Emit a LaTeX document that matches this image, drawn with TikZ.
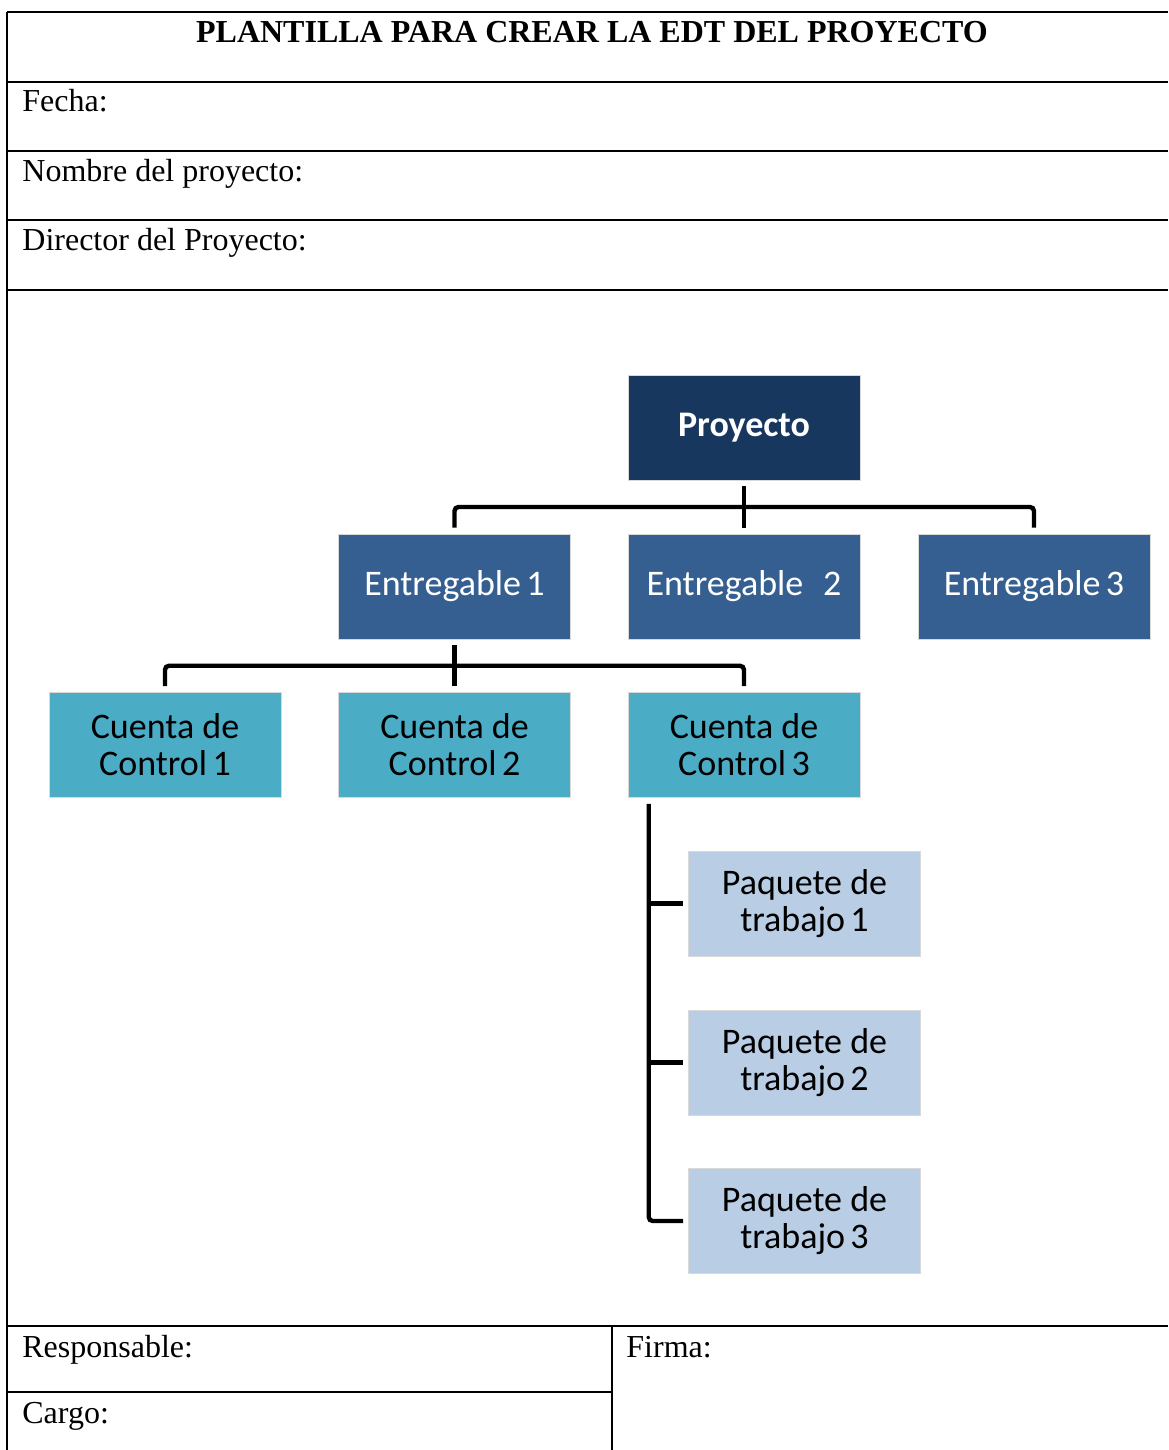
\documentclass[tikz,border=0pt]{standalone}
\usepackage{fontspec}
\setmainfont{Liberation Serif}
\newfontfamily\calibri{Carlito}
\usepackage{tikz}
\usetikzlibrary{calc}
\definecolor{proyblue}{HTML}{17375E}
\definecolor{entblue}{HTML}{365F91}
\definecolor{ctaturq}{HTML}{4BACC6}
\definecolor{paqblue}{HTML}{B9CDE5}

\begin{document}
\begin{tikzpicture}[x=0.5pt,y=-0.5pt,
  rule/.style={line width=1.3pt},
  field/.style={anchor=base west,inner sep=0pt,font=\fontsize{16pt}{19pt}\selectfont},
  box/.style={minimum width=116pt,minimum height=52.5pt,inner sep=0pt,align=center,
    draw=white!85!black,line width=0.3pt,font=\calibri\fontsize{18pt}{18.5pt}\selectfont},
  conn/.style={line width=2.2pt,rounded corners=2pt}]
\useasboundingbox (0,0) rectangle (1168,1450);
% table
\foreach \y in {12,82,151,220,290,1326}
  \draw[rule] (7,\y) -- (1168,\y);
\draw[rule] (7,1392) -- (612,1392);
\draw[rule] (7,12) -- (7,1450);
\draw[rule] (612,1326) -- (612,1450);
\node[anchor=base,inner sep=0pt,font=\bfseries\fontsize{16pt}{19pt}\selectfont] (titulo) at (592,43) {PLANTILLA PARA CREAR LA EDT DEL PROYECTO};
\node[field] (fecha) at (22,112) {Fecha:};
\node[field] (nombre) at (22,181) {Nombre del proyecto:};
\node[field] (director) at (22,250) {Director del Proyecto:};
\node[field] (resp) at (22,1357) {Responsable:};
\node[field] (cargo) at (22,1423) {Cargo:};
\node[field] (firma) at (626,1357) {Firma:};
% boxes
\node[box,fill=proyblue,text=white,font=\calibri\bfseries\fontsize{18pt}{18.5pt}\selectfont] (proy) at (744,427.5) {Proyecto};
\node[box,fill=entblue,text=white] (ent1) at (454.5,586.5) {Entregable\hspace{0.15em}1};
\node[box,fill=entblue,text=white] (ent2) at (744,586.5) {Entregable\hspace{0.55em}2};
\node[box,fill=entblue,text=white] (ent3) at (1034,586.5) {Entregable\hspace{0.15em}3};
\node[box,fill=ctaturq] (cc1) at (165,745) {Cuenta de\\Control\hspace{0.15em}1};
\node[box,fill=ctaturq] (cc2) at (454.5,745) {Cuenta de\\Control\hspace{0.15em}2};
\node[box,fill=ctaturq] (cc3) at (744,745) {Cuenta de\\Control\hspace{0.15em}3};
\node[box,fill=paqblue] (paq1) at (804.5,903.5) {Paquete de\\trabajo\hspace{0.15em}1};
\node[box,fill=paqblue] (paq2) at (804.5,1062.5) {Paquete de\\trabajo\hspace{0.15em}2};
\node[box,fill=paqblue] (paq3) at (804.5,1221) {Paquete de\\trabajo\hspace{0.15em}3};
% connectors
\coordinate (bus1) at ($(proy.south)!0.5!(ent2.north)$);
\draw[conn] ([yshift=-3pt]proy.south) -- ([yshift=3pt]ent2.north);
\draw[conn] ([yshift=3pt]ent1.north) |- (bus1) -| ([yshift=3pt]ent3.north);
\coordinate (bus2) at ($(ent1.south)!0.5!(cc2.north)$);
\draw[conn] ([yshift=-3pt]ent1.south) -- ([yshift=3pt]cc2.north);
\draw[conn] ([yshift=3pt]cc1.north) |- (bus2) -| ([yshift=3pt]cc3.north);
\coordinate (trunk) at ([xshift=10.5pt,yshift=-3pt]cc3.south west);
\draw[conn] (trunk) |- ([xshift=-2.5pt]paq3.west);
\draw[conn] (trunk |- paq1.west) -- ([xshift=-2.5pt]paq1.west);
\draw[conn] (trunk |- paq2.west) -- ([xshift=-2.5pt]paq2.west);
\end{tikzpicture}
\end{document}
